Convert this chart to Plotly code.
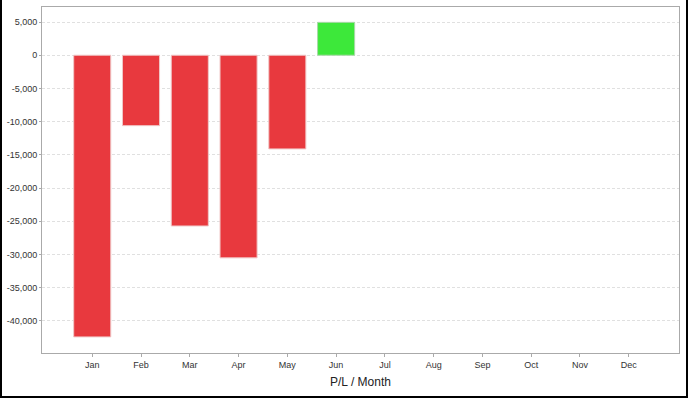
import plotly.graph_objects as go

months = ["Jan", "Feb", "Mar", "Apr", "May", "Jun", "Jul", "Aug", "Sep", "Oct", "Nov", "Dec"]
pl_values = [-42400, -10600, -25700, -30500, -14100, 4950, None, None, None, None, None, None]
y_tickvals = [5000, 0, -5000, -10000, -15000, -20000, -25000, -30000, -35000, -40000]
y_ticktext = ["5,000", "0", "-5,000", "-10,000", "-15,000", "-20,000", "-25,000", "-30,000", "-35,000", "-40,000"]

colors = ["#3de83a" if (v is not None and v >= 0) else "#e8393e" for v in pl_values]
lines = ["#a9d8a8" if (v is not None and v >= 0) else "#f0c8c8" for v in pl_values]

W, H = 688, 398
ml, mr, mt, mb = 42, 9, 7, 45

fig = go.Figure(go.Bar(
    x=list(range(12)), y=pl_values,
    marker=dict(color=colors, line=dict(color=lines, width=1)),
    width=0.76,
))

pw = W - ml - mr
ph = H - mt - mb
fig.add_shape(type="rect", xref="paper", yref="paper",
              x0=(1 - ml) / pw, x1=(W - 1 - ml) / pw,
              y0=-(H - 1 - mt - ph) / ph, y1=(H - 1 - mt) / ph,
              line=dict(color="black", width=2), layer="above")

fig.update_layout(
    width=W, height=H,
    margin=dict(l=ml, r=mr, t=mt, b=mb),
    paper_bgcolor="white", plot_bgcolor="white",
    showlegend=False,
    font=dict(family="Liberation Sans, Arial, sans-serif", size=9, color="#333333"),
)
fig.update_xaxes(
    range=[-1.03, 12.03],
    tickmode="array", tickvals=list(range(12)), ticktext=months,
    showgrid=False, zeroline=False,
    showline=True, linecolor="#aaaaaa", linewidth=1, mirror=True,
    ticks="outside", ticklen=3, tickcolor="#aaaaaa",
    title=dict(text="P/L / Month", font=dict(size=12, color="#222222"), standoff=8),
)
fig.update_yaxes(
    range=[-44820, 7260],
    tickmode="array", tickvals=y_tickvals, ticktext=y_ticktext,
    showgrid=True, gridcolor="#e0e0e0", griddash="3px,2px", gridwidth=1,
    zeroline=False,
    showline=True, linecolor="#aaaaaa", linewidth=1, mirror=True,
    ticks="outside", ticklen=2, tickcolor="#aaaaaa",
)

fig.write_html(
    "out.html",
    config={"displayModeBar": False},
    post_script="document.body.style.margin='0';document.body.style.overflow='hidden';",
)
